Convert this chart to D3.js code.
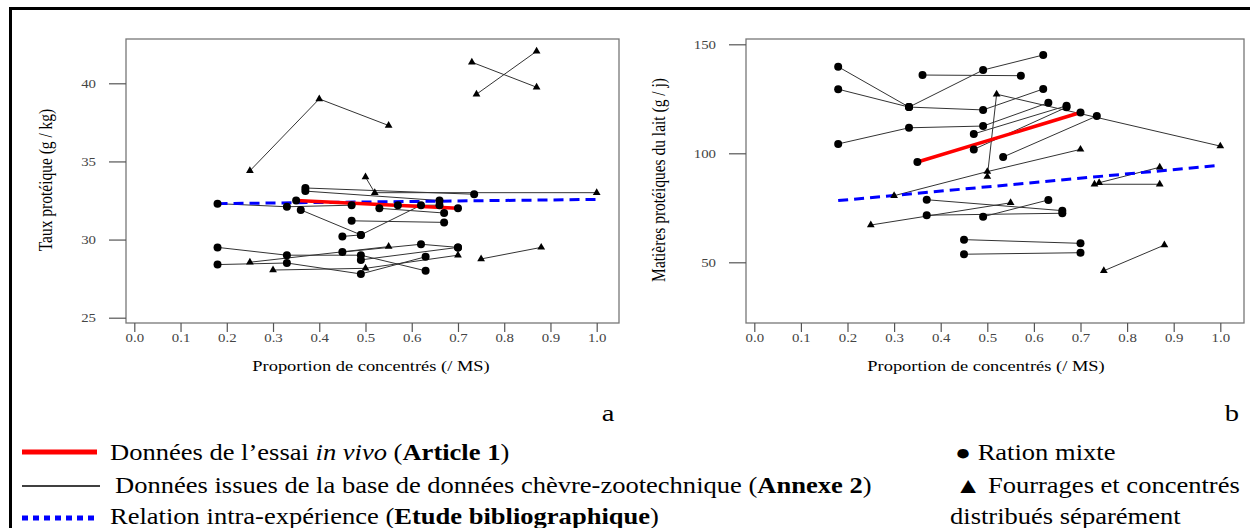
<!DOCTYPE html>
<html>
<head>
<meta charset="utf-8">
<script src="https://cdn.jsdelivr.net/npm/d3@7"></script>
<style>
  body { margin: 0; background: #fff; }
  svg { display: block; }
</style>
</head>
<body>
<svg id="chart" width="1250" height="528"></svg>
<script>
// values
xTicks = [0, 0.1, 0.2, 0.3, 0.4, 0.5, 0.6, 0.7, 0.8, 0.9, 1.0];
leftYTicks = [25, 30, 35, 40];
rightYTicks = [50, 100, 150];

// panel a : taux protéique (g / kg)
leftMixed = [
  [[0.18, 32.3], [0.33, 32.1], [0.47, 32.2]],
  [[0.37, 33.3], [0.735, 32.9]],
  [[0.37, 33.1], [0.66, 32.5]],
  [[0.36, 31.9], [0.49, 30.3]],
  [[0.45, 30.2], [0.49, 30.3], [0.62, 32.2]],
  [[0.47, 31.2], [0.67, 31.1]],
  [[0.53, 32.0], [0.67, 31.7]],
  [[0.57, 32.2], [0.66, 32.2]],
  [[0.18, 29.5], [0.33, 29.0], [0.49, 29.0], [0.63, 28.0]],
  [[0.18, 28.4], [0.33, 28.5], [0.49, 27.8], [0.63, 28.9]],
  [[0.45, 29.2], [0.62, 29.7], [0.70, 29.5]],
  [[0.49, 28.7], [0.70, 29.5]]
];
leftSeparate = [
  [[0.25, 34.4], [0.40, 39.0], [0.55, 37.3]],
  [[0.74, 39.3], [0.87, 42.05]],
  [[0.73, 41.35], [0.87, 39.75]],
  [[0.50, 34.0], [0.52, 33.0], [1.0, 33.0]],
  [[0.25, 28.55], [0.55, 29.55]],
  [[0.30, 28.05], [0.50, 28.16], [0.70, 29.0]],
  [[0.75, 28.76], [0.88, 29.5]]
];
leftInVivo = [[0.35, 32.5], [0.70, 32.0]];
leftIntra = [[0.18, 32.3], [1.0, 32.57]];

// panel b : matières protéiques du lait (g / j)
rightMixed = [
  [[0.18, 139.7], [0.332, 121.2]],
  [[0.18, 129.4], [0.332, 121.2], [0.491, 119.9], [0.62, 129.5]],
  [[0.332, 121.2], [0.491, 138.2], [0.62, 145.1]],
  [[0.361, 135.9], [0.572, 135.6]],
  [[0.18, 104.3], [0.332, 111.7], [0.491, 112.5], [0.631, 123.2]],
  [[0.471, 108.9], [0.67, 121.8]],
  [[0.471, 101.8], [0.67, 121.1]],
  [[0.534, 98.3], [0.735, 117.1]],
  [[0.37, 78.7], [0.661, 73.7]],
  [[0.37, 71.6], [0.661, 72.5]],
  [[0.491, 70.9], [0.631, 78.6]],
  [[0.45, 60.4], [0.70, 58.7]],
  [[0.45, 53.7], [0.70, 54.4]]
];
rightSeparate = [
  [[0.50, 89.3], [0.52, 127.1], [1.0, 103.3]],
  [[0.30, 80.55], [0.50, 91.6], [0.70, 101.8]],
  [[0.25, 67.1], [0.55, 77.3]],
  [[0.73, 85.8], [0.87, 85.8]],
  [[0.74, 86.5], [0.87, 93.6]],
  [[0.75, 46.1], [0.88, 57.9]]
];
rightInVivo = [[0.35, 96.0], [0.70, 118.7]];
rightIntra = [[0.18, 78.3], [1.0, 94.5]];

xTitle = "Proportion de concentrés (/ MS)";
leftYTitle = "Taux protéique (g / kg)";
rightYTitle = "Matières protéiques du lait (g / j)";

const svg = d3.select("#chart");
const SX = 1.19;   // the figure is stretched horizontally
const serif = "'Liberation Serif','Times New Roman',serif";

function stretched(parent, x, y, rot) {
  return parent.append("g")
      .attr("transform", `translate(${x},${y}) scale(${SX},1)` + (rot ? ` rotate(${rot})` : ""))
    .append("text")
      .attr("font-family", serif)
      .attr("fill", "#000");
}

// outer frame (top and left edges only visible)
svg.append("path")
    .attr("d", "M10.5,528V8.5H1250")
    .attr("fill", "none")
    .attr("stroke", "#000")
    .attr("stroke-width", 3);

function panel(p) {
  const x = d3.scaleLinear().domain([0, 1]).range(p.xr);
  const y = d3.scaleLinear().domain(p.yd).range(p.yr);
  const line = d3.line().x(d => x(d[0])).y(d => y(d[1]));
  const g = svg.append("g");

  g.append("rect")
      .attr("x", p.box[0]).attr("y", p.box[1])
      .attr("width", p.box[2] - p.box[0]).attr("height", p.box[3] - p.box[1])
      .attr("fill", "none").attr("stroke", "#777").attr("stroke-width", 1.3);

  const ax = g.append("g")
      .attr("transform", `translate(0,${p.box[3]})`)
      .call(d3.axisBottom(x).tickValues(xTicks).tickFormat(d3.format(".1f"))
        .tickSize(9).tickSizeOuter(0).tickPadding(1));
  ax.select(".domain").remove();
  ax.attr("color", "#555").attr("font-family", serif).attr("font-size", 12.5);
  ax.selectAll("line").attr("stroke-width", 1.2);
  ax.selectAll("text").attr("transform", `scale(${SX},1)`).attr("fill", "#444");

  const ay = g.append("g")
      .attr("transform", `translate(${p.box[0]},0)`)
      .call(d3.axisLeft(y).tickValues(p.yTicks).tickSize(17).tickSizeOuter(0).tickPadding(13));
  ay.select(".domain").remove();
  ay.attr("color", "#555").attr("font-family", serif).attr("font-size", 12.5);
  ay.selectAll("line").attr("stroke-width", 1.2);
  ay.selectAll("text").attr("x", -30 / SX).attr("transform", `scale(${SX},1)`).attr("fill", "#444");

  stretched(g, p.titleX, 371).attr("text-anchor", "middle").attr("font-size", 15.5).text(xTitle);
  stretched(g, p.yTitleX, 180, -90).attr("text-anchor", "middle").attr("font-size", 15.5).text(p.yTitle);

  // experiment lines
  g.append("g").selectAll("path")
    .data(p.mixed.concat(p.sep))
    .join("path")
      .attr("d", line)
      .attr("fill", "none")
      .attr("stroke", "#333")
      .attr("stroke-width", 1);

  // intra-experiment relation
  g.append("path").attr("d", line(p.intra))
      .attr("fill", "none").attr("stroke", "#0000ff")
      .attr("stroke-width", 3).attr("stroke-dasharray", "10,6");

  // in vivo trial
  g.append("path").attr("d", line(p.vivo))
      .attr("fill", "none").attr("stroke", "#ff0000").attr("stroke-width", 3.5);

  g.append("g").selectAll("circle")
    .data(p.mixed.flat().concat(p.vivo))
    .join("circle")
      .attr("cx", d => x(d[0])).attr("cy", d => y(d[1]))
      .attr("r", 4).attr("fill", "#000");

  g.append("g").selectAll("path")
    .data(p.sep.flat())
    .join("path")
      .attr("transform", d => `translate(${x(d[0])},${y(d[1])})`)
      .attr("d", d3.symbol(d3.symbolTriangle, 26))
      .attr("fill", "#000");
}

panel({
  xr: [134.3, 596.7], yd: [25, 40], yr: [317.7, 83.3],
  box: [126, 39, 619, 323], yTicks: leftYTicks,
  titleX: 371, yTitleX: 52, yTitle: leftYTitle,
  mixed: leftMixed, sep: leftSeparate, vivo: leftInVivo, intra: leftIntra
});

panel({
  xr: [754.3, 1220.3], yd: [50, 150], yr: [262.3, 44.3],
  box: [746, 39, 1244, 323], yTicks: rightYTicks,
  titleX: 986, yTitleX: 665, yTitle: rightYTitle,
  mixed: rightMixed, sep: rightSeparate, vivo: rightInVivo, intra: rightIntra
});

// panel letters
stretched(svg, 608, 421).attr("text-anchor", "middle").attr("font-size", 24).text("a");
stretched(svg, 1232, 421).attr("text-anchor", "middle").attr("font-size", 24).text("b");

// legend
const lg = svg.append("g");
lg.append("path").attr("d", "M22,452H97").attr("stroke", "#ff0000").attr("stroke-width", 5);
lg.append("path").attr("d", "M22,486H100").attr("stroke", "#000").attr("stroke-width", 1.5);
lg.append("path").attr("d", "M22,518H97").attr("stroke", "#0000ff").attr("stroke-width", 5)
    .attr("stroke-dasharray", "6,5");

let t = stretched(lg, 110, 460).attr("font-size", 22.3);
t.append("tspan").text("Données de l’essai ");
t.append("tspan").attr("font-style", "italic").text("in vivo");
t.append("tspan").text(" (");
t.append("tspan").attr("font-weight", "bold").text("Article 1");
t.append("tspan").text(")");

t = stretched(lg, 115, 493).attr("font-size", 22.3);
t.append("tspan").text("Données issues de la base de données chèvre-zootechnique (");
t.append("tspan").attr("font-weight", "bold").text("Annexe 2");
t.append("tspan").text(")");

t = stretched(lg, 110, 524).attr("font-size", 22.3);
t.append("tspan").text("Relation intra-expérience (");
t.append("tspan").attr("font-weight", "bold").text("Etude bibliographique");
t.append("tspan").text(")");

stretched(lg, 955, 460).attr("font-size", 22.3).text("● Ration mixte");
stretched(lg, 955, 493).attr("font-size", 22.3).text("▲ Fourrages et concentrés");
stretched(lg, 950, 524).attr("font-size", 22.3).text("distribués séparément");
</script>
</body>
</html>
